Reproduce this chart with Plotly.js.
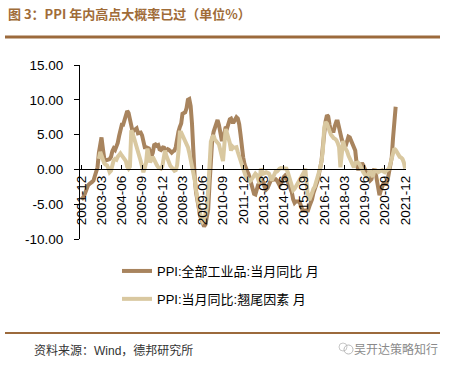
<!DOCTYPE html>
<html>
<head>
<meta charset="utf-8">
<script src="https://cdn.plot.ly/plotly-3.0.1.min.js"></script>
<style>html,body{margin:0;padding:0;background:#fff;}#chart{width:452px;height:367px;}</style>
</head>
<body>
<div id="chart"></div>
<script>
// ---- data ----
const seriesNames = ["PPI:全部工业品:当月同比 月", "PPI:当月同比:翘尾因素 月"];
const ppiStart = [2001, 12];
const ppiYoY = [
  -3.9,
  -4.1, -3.8, -3.3, -2.6, -2.3, -2.1, -2.0, -1.8, -1.6, -1.0, -0.5, 0.3,
  2.4, 4.0, 4.6, 3.0, 1.6, 1.3, 1.3, 1.4, 1.5, 1.8, 2.6, 3.0,
  2.8, 3.2, 3.8, 4.8, 5.7, 6.4, 6.4, 7.1, 7.9, 8.4, 8.1, 7.1,
  5.8, 5.4, 5.6, 5.8, 5.9, 5.2, 5.2, 5.3, 4.9, 4.0, 3.2, 3.2,
  3.1, 3.0, 2.5, 1.9, 2.4, 3.5, 3.6, 3.4, 3.5, 2.9, 2.8, 3.1,
  3.3, 2.6, 2.7, 2.9, 2.8, 2.5, 2.4, 2.6, 2.7, 3.2, 4.6, 5.4,
  6.1, 6.6, 8.0, 8.1, 8.2, 8.8, 10.0, 10.1, 9.1, 6.6, 2.0, -1.1,
  -3.3, -4.5, -6.0, -6.6, -7.2, -7.8, -8.2, -7.9, -7.0, -5.8, -2.1, 1.7,
  4.3, 5.4, 5.9, 6.8, 7.1, 6.4, 4.8, 4.3, 4.3, 5.0, 6.1, 5.9,
  6.6, 7.2, 7.3, 6.8, 6.8, 7.1, 7.5, 7.3, 6.5, 5.0, 2.7, 1.7,
  0.7, 0.0, -0.3, -0.7, -1.4, -2.1, -2.9, -3.5, -3.6, -2.8, -2.2, -1.9,
  -1.6, -1.6, -1.9, -2.6, -2.9, -2.7, -2.3, -1.6, -1.3, -1.5, -1.4, -1.4,
  -1.6, -2.0, -2.3, -2.0, -1.4, -1.1, -0.9, -1.2, -1.8, -2.2, -2.7, -3.3,
  -4.3, -4.8, -4.6, -4.6, -4.6, -4.8, -5.4, -5.9, -5.9, -5.9, -5.9, -5.9,
  -5.3, -4.9, -4.3, -3.4, -2.8, -2.6, -1.7, -0.8, 0.1, 1.2, 3.3, 5.5,
  6.9, 7.8, 7.6, 6.4, 5.5, 5.5, 5.5, 6.3, 6.9, 6.9, 5.8, 4.9,
  4.3, 3.7, 3.1, 3.4, 4.1, 4.7, 4.6, 4.1, 3.6, 3.3, 2.7, 0.9,
  0.1, 0.1, 0.4, 0.9, 0.6, 0.0, -0.3, -0.8, -1.2, -1.6, -1.4, -0.5,
  0.1, -0.4, -1.5, -3.1, -3.7, -3.0, -2.4, -2.0, -2.1, -2.1, -1.5, -0.4,
  0.3, 1.7, 4.4, 6.8, 9.0
];
const carryStart = [2003, 1];
const carryOver = [
  1.5, 2.5, 2.0, 1.3, 0.9, 0.7, 0.6, 0.2, -0.4, -0.2, 0.8, 1.3,
  1.5, 1.4, 1.8, 2.1, 2.3, 2.0, 1.8, 1.6, 1.2, 0.4, 0.1, 0.4,
  5.6, 5.2, 4.6, 4.2, 3.5, 2.8, 2.0, 1.2, 0.4, -0.4, 0.2, 1.0,
  3.0, 1.6, 1.0, 1.4, 1.8, 1.4, 0.9, 0.6, 0.3, 0.1, 0.1, 0.4,
  2.2, 2.7, 2.0, 1.4, 1.0, 0.5, 0.3, 0.0, -0.2, -0.1, 0.6, 2.5,
  5.3, 5.3, 4.9, 4.4, 4.1, 3.6, 3.2, 2.4, 1.4, 0.6, -0.1, -1.5,
  -3.0, -4.5, -5.5, -6.3, -7.0, -7.5, -7.3, -6.5, -5.5, -3.0, 0.5, 4.0,
  4.6, 4.9, 4.3, 4.0, 3.8, 3.6, 2.8, 2.0, 1.2, 3.5, 5.8, 5.2,
  4.6, 3.8, 2.7, 3.3, 3.1, 3.2, 3.2, 2.5, 1.8, 1.2, 0.5, 0.1,
  -0.5, -1.1, -1.3, -1.6, -1.7, -1.5, -1.2, -0.8, -0.6, -0.8, -1.3, -2.0,
  0.1, -0.4, -0.6, -0.5, -0.4, -0.5, -0.6, -1.0, -1.6, -1.2, -0.7, -0.3,
  -0.3, 0.0, 0.1, 0.2, 0.2, 0.2, 0.2, 0.1, -0.4, -1.0, -1.6, -2.3,
  -3.0, -2.8, -2.5, -2.2, -2.0, -1.6, -1.2, -0.8, -0.4, 0.1, -2.5, -4.0,
  -4.4, -4.0, -3.4, -2.8, -2.5, -1.8, -1.2, -0.6, 0.2, 1.2, 2.7, 6.0,
  6.8, 6.6, 5.8, 5.5, 5.0, 4.6, 4.5, 4.4, 4.2, 3.8, 3.2, 0.3,
  3.0, 4.1, 3.3, 3.0, 2.6, 2.0, 1.6, 1.2, 0.5, 0.3, 0.9, 1.0,
  1.0, 0.8, 0.3, -0.1, -0.4, -0.7, -1.0, -1.1, -0.6, -0.1, -0.6, -1.1,
  -0.3, -0.1, -0.2, -0.4, -0.3, -0.1, -0.1, -0.3, -0.4, -0.2, 0.0, 0.1,
  0.8, 1.8, 2.6, 3.0, 2.8, 2.4, 2.1, 1.8, 1.7, 1.5, 1.0, 0.1
];
const tickLabels = ["2001-12","2003-03","2004-06","2005-09","2006-12","2008-03","2009-06",
  "2010-09","2011-12","2013-03","2014-06","2015-09","2016-12","2018-03","2019-06","2020-09","2021-12"];
const yTicks = [-10, -5, 0, 5, 10, 15];

function months(start, n) {
  const out = [];
  let y = start[0], m = start[1];
  for (let i = 0; i < n; i++) {
    out.push(y + "-" + String(m).padStart(2, "0") + "-01");
    m++; if (m > 12) { m = 1; y++; }
  }
  return out;
}

const darkColor = "#A8845E";
const lightColor = "#D9C8A0";
const sans = "Liberation Sans, Arial, Noto Sans CJK SC, sans-serif";
const cjk = "Liberation Sans, Noto Sans CJK SC, sans-serif";

const data = [
  {x: months(ppiStart, ppiYoY.length), y: ppiYoY, name: seriesNames[0], type: "scatter", mode: "lines",
   line: {color: darkColor, width: 4}, legendgroup: "a", legendrank: 1},
  {x: months(carryStart, carryOver.length), y: carryOver, name: seriesNames[1], type: "scatter", mode: "lines",
   line: {color: lightColor, width: 4}, legendgroup: "b", legendrank: 2}
];

const PL = 80, PR = 406, PT = 65, PB = 239;
const W = 452, H = 367;
const px = X => (X - PL) / (PR - PL);
const py = Y => (PB - Y) / (PB - PT);

const layout = {
  width: W, height: H,
  margin: {l: PL, r: W - PR, t: PT, b: H - PB, pad: 0},
  paper_bgcolor: "#fff", plot_bgcolor: "#fff",
  showlegend: true,
  title: {text: "图 3：PPI 年内高点大概率已过（单位%）", x: 8 / W, xanchor: "left", xref: "container",
          y: 1 - 14 / H, yanchor: "middle", yref: "container",
          font: {family: "Noto Sans CJK SC, sans-serif", size: 13, color: "#A06C38", weight: "bold"}},
  xaxis: {
    type: "date", range: ["2001-11-01", "2021-12-20"],
    anchor: "free", position: 0.4,
    showline: true, linecolor: "#000", linewidth: 1,
    showgrid: false, zeroline: false,
    ticks: "inside", ticklen: 4, tickcolor: "#000", tickwidth: 1,
    tickmode: "array", tickvals: tickLabels.map(t => t + "-01"), ticktext: tickLabels,
    tickangle: -90, tickfont: {family: sans, size: 13.5, color: "#000"}
  },
  yaxis: {
    range: [-10, 15], tickmode: "array", tickvals: yTicks, ticktext: yTicks.map(v => v.toFixed(2)),
    showline: true, linecolor: "#000", linewidth: 1,
    ticks: "outside", ticklen: 5, tickcolor: "#000",
    showgrid: false, zeroline: false,
    ticklabelstandoff: 8,
    tickfont: {family: sans, size: 13.5, color: "#000"}
  },
  legend: {x: px(117), y: py(256), xanchor: "left", yanchor: "top",
           traceorder: "grouped", tracegroupgap: 8,
           font: {family: cjk, size: 13, color: "#000"}, bgcolor: "rgba(0,0,0,0)"},
  shapes: [
    {type: "line", xref: "paper", yref: "paper", x0: px(5), x1: px(440), y0: py(37), y1: py(37),
     line: {color: "#9C6A3C", width: 3}},
    {type: "line", xref: "paper", yref: "paper", x0: px(5), x1: px(440), y0: py(333), y1: py(333),
     line: {color: "#9C6A3C", width: 2}},
    {type: "circle", xref: "paper", yref: "paper", x0: px(339), x1: px(347), y0: py(351), y1: py(343),
     line: {color: "#c8c8c8", width: 1}},
    {type: "circle", xref: "paper", yref: "paper", x0: px(344), x1: px(353), y0: py(354), y1: py(345),
     line: {color: "#b8b8b8", width: 1}}
  ],
  annotations: [
    {text: "资料来源：Wind，德邦研究所", xref: "paper", yref: "paper", x: px(32), y: py(350),
     xanchor: "left", yanchor: "middle", showarrow: false,
     font: {family: cjk, size: 12, color: "#333"}},
    {text: "吴开达策略知行", xref: "paper", yref: "paper", x: px(440), y: py(348),
     xanchor: "right", yanchor: "middle", showarrow: false,
     font: {family: "Noto Sans CJK SC, sans-serif", size: 12, color: "#8a8a8a"}}
  ]
};

Plotly.newPlot("chart", data, layout, {staticPlot: true, displayModeBar: false});
</script>
</body>
</html>
